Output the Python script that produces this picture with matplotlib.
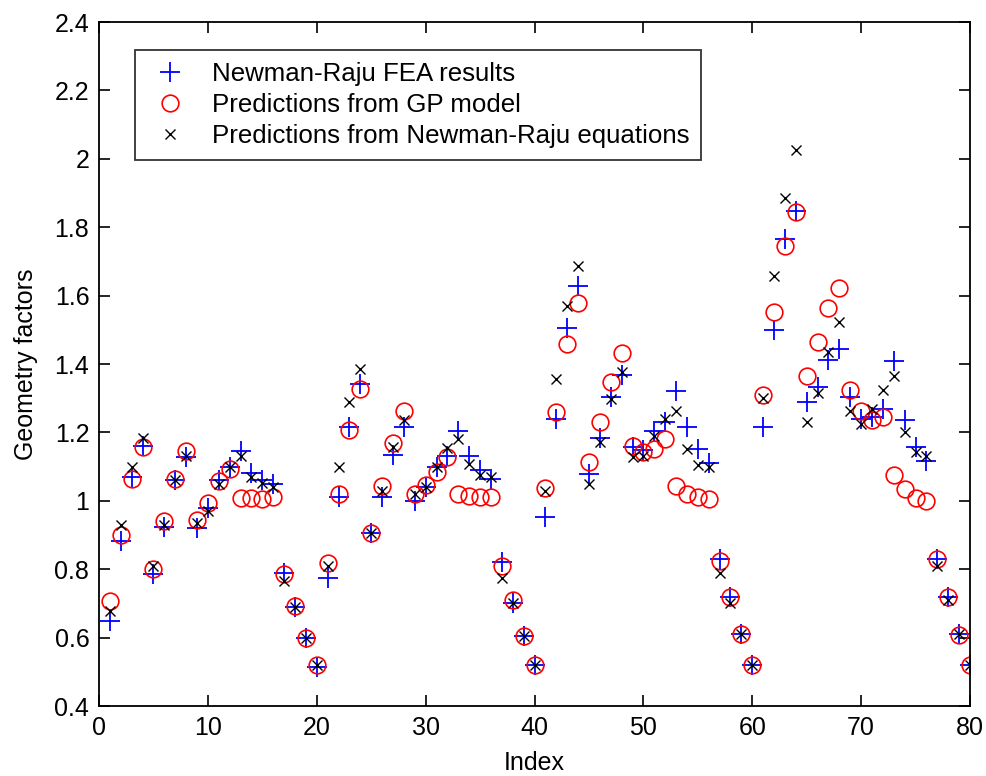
import numpy as np
import matplotlib
matplotlib.use('Agg')
import matplotlib.pyplot as plt

plt.rcParams['font.family'] = ['Liberation Sans', 'DejaVu Sans']

index = np.arange(1, 81)

fea = [0.648, 0.883, 1.07, 1.16, 0.785, 0.923, 1.06, 1.129, 0.92, 0.98,
       1.06, 1.10, 1.145, 1.08, 1.06, 1.05, 0.79, 0.69, 0.60, 0.515,
       0.774, 1.01, 1.215, 1.342, 0.905, 1.01, 1.135, 1.215, 1.00, 1.04,
       1.10, 1.13, 1.205, 1.13, 1.09, 1.065, 0.82, 0.70, 0.605, 0.52,
       0.953, 1.24, 1.505, 1.628, 1.078, 1.184, 1.305, 1.367, 1.156, 1.15,
       1.205, 1.23, 1.322, 1.215, 1.152, 1.11, 0.83, 0.72, 0.61, 0.52,
       1.215, 1.50, 1.767, 1.847, 1.288, 1.332, 1.413, 1.445, 1.303, 1.24,
       1.244, 1.269, 1.41, 1.235, 1.156, 1.117, 0.83, 0.72, 0.61, 0.52]

gp = [0.707, 0.899, 1.065, 1.158, 0.80, 0.94, 1.064, 1.145, 0.944, 0.995,
      1.059, 1.093, 1.008, 1.008, 1.005, 1.01, 0.785, 0.692, 0.60, 0.519,
      0.818, 1.02, 1.208, 1.327, 0.907, 1.042, 1.168, 1.264, 1.02, 1.047,
      1.083, 1.129, 1.02, 1.015, 1.01, 1.01, 0.81, 0.71, 0.605, 0.52,
      1.037, 1.259, 1.46, 1.579, 1.114, 1.23, 1.347, 1.433, 1.161, 1.142,
      1.152, 1.18, 1.044, 1.02, 1.01, 1.005, 0.825, 0.72, 0.61, 0.52,
      1.308, 1.552, 1.745, 1.845, 1.364, 1.464, 1.564, 1.623, 1.323, 1.264,
      1.235, 1.244, 1.076, 1.034, 1.008, 1.0, 0.829, 0.718, 0.609, 0.52]

nr_eq = [0.677, 0.93, 1.10, 1.185, 0.81, 0.93, 1.06, 1.13, 0.935, 0.97,
         1.05, 1.10, 1.13, 1.07, 1.052, 1.04, 0.765, 0.69, 0.60, 0.52,
         0.81, 1.10, 1.288, 1.386, 0.905, 1.03, 1.158, 1.235, 1.02, 1.04,
         1.10, 1.155, 1.18, 1.108, 1.075, 1.07, 0.775, 0.70, 0.605, 0.52,
         1.03, 1.357, 1.569, 1.686, 1.05, 1.171, 1.298, 1.376, 1.127, 1.13,
         1.19, 1.24, 1.264, 1.152, 1.105, 1.10, 0.79, 0.70, 0.61, 0.52,
         1.30, 1.657, 1.885, 2.026, 1.23, 1.315, 1.435, 1.523, 1.264, 1.225,
         1.269, 1.323, 1.364, 1.20, 1.142, 1.13, 0.81, 0.71, 0.61, 0.52]

fig = plt.figure(figsize=(9.86, 7.76), dpi=100)
ax = fig.add_axes([0.1004, 0.0902, 0.8834, 0.8814])

ax.plot(index, fea, '+', color='blue', markersize=14, markeredgewidth=1.3,
        label='Newman-Raju FEA results')
ax.plot(index, gp, 'o', color='red', markerfacecolor='none', markersize=12,
        markeredgewidth=1.2, label='Predictions from GP model')
ax.plot(index, nr_eq, 'x', color='black', markersize=7, markeredgewidth=1.0,
        label='Predictions from Newman-Raju equations')

ax.set_xlim(0, 80)
ax.set_ylim(0.4, 2.4)
ax.set_xticks(range(0, 81, 10))
ax.set_yticks(np.arange(0.4, 2.41, 0.2))
ax.set_yticklabels(['0.4', '0.6', '0.8', '1', '1.2', '1.4', '1.6', '1.8', '2', '2.2', '2.4'])
ax.tick_params(direction='in', top=True, right=True, length=8, width=1.2,
               labelsize=18, pad=7)
for s in ax.spines.values():
    s.set_linewidth(1.3)

ax.set_xlabel('Index', fontsize=18, labelpad=8)
ax.set_ylabel('Geometry factors', fontsize=18, labelpad=12)

leg = ax.legend(loc='upper left', bbox_to_anchor=(0.041, 0.959), fontsize=18.6,
                frameon=True, fancybox=False, edgecolor='black',
                borderpad=0.45, labelspacing=0.28, handletextpad=0.75,
                handlelength=1.8, borderaxespad=0)
leg.get_frame().set_linewidth(1.3)

fig.savefig('out.png', dpi=100)
